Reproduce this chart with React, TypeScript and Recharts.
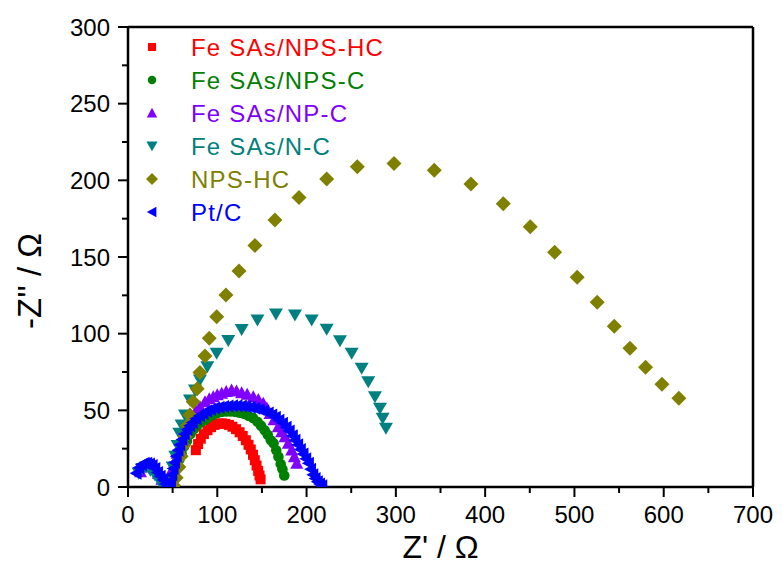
import { ScatterChart, Scatter, XAxis, YAxis, ReferenceLine } from 'recharts'

const FONT = '"Liberation Sans", Arial, sans-serif'

const seriesNames = ['Fe SAs/NPS-HC', 'Fe SAs/NPS-C', 'Fe SAs/NP-C', 'Fe SAs/N-C', 'NPS-HC', 'Pt/C']
const seriesColors = ['#ff0000', '#008000', '#8000ff', '#008080', '#808000', '#0000ff']
const seriesShapes = ['square', 'circle', 'up', 'down', 'diamond', 'left']

// ticks
const xTicks = [0, 50, 100, 150, 200, 250, 300, 350, 400, 450, 500, 550, 600, 650, 700]
const xLabelled = [0, 100, 200, 300, 400, 500, 600, 700]
const yTicks = [0, 25, 50, 75, 100, 125, 150, 175, 200, 225, 250, 275, 300]
const yLabelled = [0, 50, 100, 150, 200, 250, 300]

// Fe SAs/NPS-HC
const redX = [76, 78.5, 81.5, 85, 89, 93, 97, 101, 105, 109, 113, 117, 121, 125, 128.5, 132, 135, 137.5, 140, 142, 144, 145.8, 147.3, 148.5]
const redY = [24, 28, 31.5, 34.5, 37, 39, 40.5, 41.3, 41.5, 41.2, 40.5, 39.3, 37.7, 35.7, 33.3, 30.5, 27.5, 24.5, 21, 17.5, 14, 10.5, 7.5, 5]

// Fe SAs/NPS-C
const greenX = [48, 49.5, 51, 53, 55, 57.5, 60, 63, 66, 70, 74, 78, 82, 86, 90, 95, 100, 105, 110, 115, 120, 125, 130, 135, 140, 145, 149, 153, 156.5, 160, 163, 166, 168.5, 171, 173, 175]
const greenY = [1, 4, 7, 10.5, 14, 18, 22, 26.5, 30, 34.5, 38, 40.5, 42.5, 43.7, 45.5, 47, 48.3, 49, 49.2, 49.2, 49, 48.5, 47.8, 46.5, 45, 42.5, 40, 37, 34, 30.5, 28.5, 24, 19.8, 15, 11.5, 7.5]

// Fe SAs/NP-C
const purpleX = [14, 18, 22, 26, 30, 34, 38, 42, 46, 48, 50, 52.5, 55, 58, 61, 64.5, 68, 72, 76, 80.6, 86.2, 91, 95.5, 100, 104.9, 110, 116, 121.5, 127.3, 133.5, 140.3, 146, 151.5, 155.5, 159, 163.5, 168.3, 172, 175.8, 179.5, 183.3, 186.3, 189]
const purpleY = [10, 13, 14, 13.5, 12, 9, 5, 1.5, 2, 7, 12, 17, 22, 27, 32, 37, 41, 45.5, 49.5, 52.4, 55.6, 57.5, 58.9, 60.2, 61.1, 62.3, 63.3, 62.6, 61.5, 60.5, 58.9, 57, 54.6, 51.5, 48, 43.8, 39.3, 36, 32.8, 28.5, 24.1, 19.8, 15.5]

// Fe SAs/N-C
const tealX = [12, 16, 20, 25, 30, 35, 40, 47, 50, 53, 55.5, 57.5, 60, 63.8, 69.4, 75, 80.6, 88.8, 99.3, 112.3, 127.3, 145, 165.7, 187, 205.7, 222.5, 237.4, 250.5, 261.7, 269.1, 276.6, 282.2, 285.2, 288.9]
const tealY = [9, 12, 13, 11, 8, 4, 1, 5, 13, 20, 27, 35, 40.4, 47, 56.8, 63.3, 69.8, 78.5, 87.2, 95.6, 102.7, 108.9, 112.8, 112.2, 108.9, 102.9, 95.4, 87.2, 77.4, 68.7, 58.9, 51.3, 44.8, 38.3]

// NPS-HC
const oliveX = [51, 54, 57, 59.5, 62, 64, 66.5, 69.4, 73, 77.5, 80.6, 86.2, 91, 99.3, 109.7, 124.3, 142.2, 164.6, 191.5, 222.5, 256.8, 297.9, 343, 384.1, 420.3, 450.5, 477.8, 503.1, 525.5, 544.6, 562.2, 579.7, 598, 617]
const oliveY = [1, 6, 13, 20, 27, 33, 40, 47, 55.6, 64, 74.6, 85.5, 97, 111, 125.2, 140.9, 157.5, 174.2, 188.8, 200.9, 208.9, 211, 206.6, 197.6, 184.8, 169.8, 153.1, 136.8, 120.5, 104.8, 90.5, 78.1, 67, 57.9]

// Pt/C
const blueX = [9, 12, 15, 18, 21, 24, 27, 30, 33, 36, 39, 42, 44, 46, 47.5, 49, 50.5, 52, 54, 56, 58, 60.5, 63, 66, 69, 72, 76, 80, 84, 88, 92.5, 97, 102, 107, 112, 117, 122, 127, 132, 137, 142, 147, 152, 157, 161, 165, 169, 173, 177, 180.5, 184, 187, 190, 193, 196, 199, 202, 204.5, 207, 209.5, 212, 214.5, 217]
const blueY = [9, 12.5, 14.5, 15.5, 15.5, 15, 14, 12, 9.5, 7, 4.5, 2, 0.5, 1, 4, 8, 12, 16, 20, 24, 27.5, 31, 34.5, 37.5, 40, 42, 44.5, 46.5, 48, 49.5, 50.5, 51.5, 52, 52.5, 52.8, 53, 53, 52.8, 52.5, 52, 51.3, 50.5, 49.5, 48.3, 47, 45.5, 43.5, 41.5, 39, 36.5, 33.5, 30.5, 27.5, 24.5, 21.5, 18.5, 15.5, 11.5, 8, 5.5, 3.5, 2, 0.8]

const zip = (xs: number[], ys: number[]) => xs.map((x, i) => ({ x, y: ys[i] }))

const seriesData = [
  zip(redX, redY),
  zip(greenX, greenY),
  zip(purpleX, purpleY),
  zip(tealX, tealY),
  zip(oliveX, oliveY),
  zip(blueX, blueY),
]

const Marker = ({ kind, cx, cy, color, scale = 1 }: any) => {
  if (cx == null || cy == null) return null
  const s = scale
  switch (kind) {
    case 'square':
      return <rect x={cx - 5 * s} y={cy - 5 * s} width={10 * s} height={10 * s} fill={color} />
    case 'circle':
      return <circle cx={cx} cy={cy} r={5.3 * s} fill={color} />
    case 'up':
      return <polygon points={`${cx},${cy - 6.5 * s} ${cx + 6.5 * s},${cy + 5.5 * s} ${cx - 6.5 * s},${cy + 5.5 * s}`} fill={color} />
    case 'down':
      return <polygon points={`${cx - 7 * s},${cy - 5.5 * s} ${cx + 7 * s},${cy - 5.5 * s} ${cx},${cy + 6.5 * s}`} fill={color} />
    case 'diamond':
      return <polygon points={`${cx},${cy - 7.5 * s} ${cx + 7.5 * s},${cy} ${cx},${cy + 7.5 * s} ${cx - 7.5 * s},${cy}`} fill={color} />
    case 'left':
      return <polygon points={`${cx - 6.5 * s},${cy} ${cx + 5.5 * s},${cy - 6.5 * s} ${cx + 5.5 * s},${cy + 6.5 * s}`} fill={color} />
    default:
      return null
  }
}

const XTick = (props: any) => {
  const { x, y, payload } = props
  const major = xLabelled.includes(payload.value)
  return (
    <g>
      <line x1={x} x2={x} y1={y} y2={y + (major ? 10 : 6)} stroke="#000" strokeWidth={2} />
      {major && (
        <text x={x} y={y + 36} textAnchor="middle" fontSize={24} fontFamily={FONT} fill="#000">
          {payload.value}
        </text>
      )}
    </g>
  )
}

const YTick = (props: any) => {
  const { x, y, payload } = props
  const major = yLabelled.includes(payload.value)
  return (
    <g>
      <line x1={x - (major ? 10 : 6)} x2={x} y1={y} y2={y} stroke="#000" strokeWidth={2} />
      {major && (
        <text x={x - 18} y={y + 8.6} textAnchor="end" fontSize={24} fontFamily={FONT} fill="#000">
          {payload.value}
        </text>
      )}
    </g>
  )
}

const legendTop = 47
const legendStep = 33

export default function App() {
  return (
    <div style={{ position: 'absolute', left: 0, top: 0, width: 782, height: 566, background: '#fff' }}>
      <ScatterChart width={782} height={566} margin={{ top: 27, right: 29, bottom: 0, left: 0 }}>
        <XAxis
          type="number"
          dataKey="x"
          domain={[0, 700]}
          ticks={xTicks}
          interval={0}
          allowDataOverflow
          height={79}
          tickSize={0}
          tickMargin={0}
          tickLine={false}
          axisLine={{ stroke: '#000', strokeWidth: 2.5 }}
          tick={<XTick />}
          label={{ value: "Z' / Ω", position: 'insideBottom', offset: 8, fontSize: 32, fontFamily: FONT, fill: '#000' }}
        />
        <YAxis
          type="number"
          dataKey="y"
          domain={[0, 300]}
          ticks={yTicks}
          interval={0}
          allowDataOverflow
          width={128}
          tickSize={0}
          tickMargin={0}
          tickLine={false}
          axisLine={{ stroke: '#000', strokeWidth: 2.5 }}
          tick={<YTick />}
          label={() => (
            <text x={41} y={281} transform="rotate(-90 41 281)" textAnchor="middle" fontSize={33} fontFamily={FONT} fill="#000">
              -Z'' / Ω
            </text>
          )}
        />
        <ReferenceLine y={300} stroke="#000" strokeWidth={2.5} />
        <ReferenceLine x={700} stroke="#000" strokeWidth={2.5} />
        {seriesData.map((d, i) => (
          <Scatter
            key={seriesNames[i]}
            name={seriesNames[i]}
            data={d}
            isAnimationActive={false}
            shape={(p: any) => <Marker kind={seriesShapes[i]} cx={p.cx} cy={p.cy} color={seriesColors[i]} />}
          />
        ))}
      </ScatterChart>
      <svg width={782} height={566} style={{ position: 'absolute', left: 0, top: 0, pointerEvents: 'none' }}>
        {seriesNames.map((n, i) => {
          const cy = legendTop + i * legendStep
          return (
            <g key={n}>
              <Marker kind={seriesShapes[i]} cx={152} cy={cy} color={seriesColors[i]} scale={0.8} />
              <text x={191} y={cy + 8.6} fontSize={24} letterSpacing={1.2} fontFamily={FONT} fill={seriesColors[i]}>
                {n}
              </text>
            </g>
          )
        })}
      </svg>
    </div>
  )
}
